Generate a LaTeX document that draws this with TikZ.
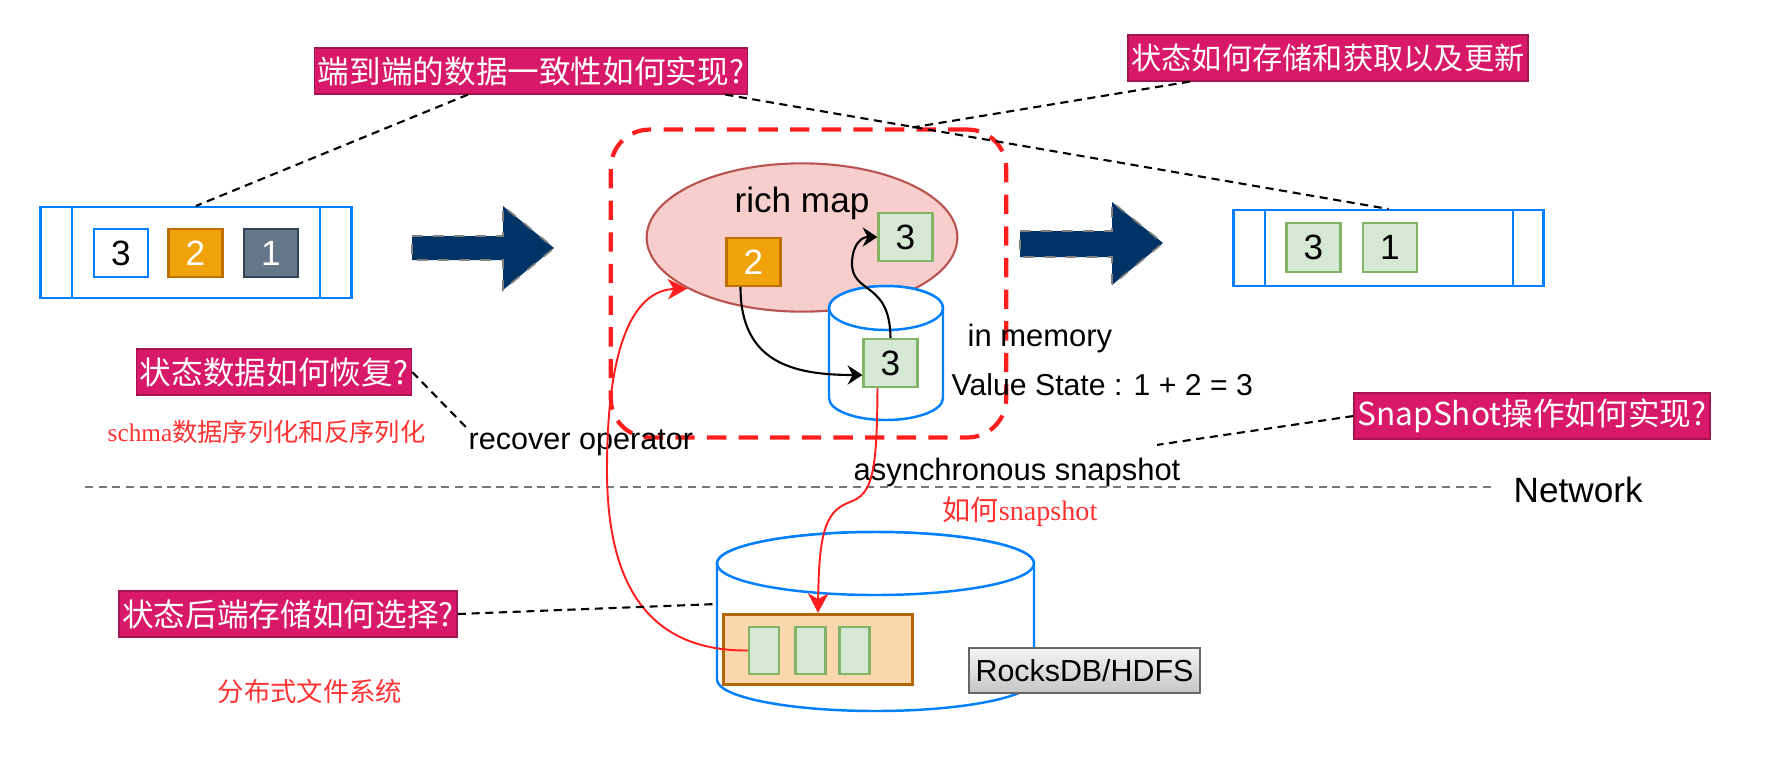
\documentclass[tikz,border=0pt]{standalone}
\usepackage{fontspec}
\setmainfont{Liberation Sans}
\newfontfamily\cjk{Noto Sans CJK SC}
\newfontfamily\serifen{Liberation Serif}
\usetikzlibrary{arrows.meta,shapes.geometric}

\begin{document}
\begin{tikzpicture}[x=0.1mm,y=-0.1mm,
    queue/.style={draw=qblue, line width=0.7pt, inner sep=0},
    item/.style={minimum width=15.3pt, minimum height=13.6pt, inner sep=0, line width=0.7pt, font=\fontsize{10}{12}\selectfont},
    greenbox/.style={item, fill=gfill, draw=gline},
    orangebox/.style={item, fill=ofill, draw=oline, text=white},
    slatebox/.style={item, fill=sfill, draw=sline, text=white},
    question/.style={fill=qmag, draw=qmagline, text=white, font=\cjk\fontsize{9}{11}\selectfont, minimum height=13pt, inner xsep=1pt, inner ysep=0},
    lbl/.style={font=\fontsize{8.7}{10}\selectfont, inner sep=0},
    note/.style={text=redtext, inner sep=0},
    hint/.style={line width=0.6pt, dash pattern=on 2.3pt off 1.6pt},
    flow/.style={-{Stealth[length=4.2pt,width=5.5pt,inset=1.4pt]}, line width=0.6pt},
    redflow/.style={-{Stealth[length=5.5pt,width=5.8pt,inset=1.6pt]}, draw=redline, line width=0.55pt},
    bigarrow/.style={fill=navy, draw=gray, dashed, line width=0.5pt},
    cyl/.style={draw=qblue, fill=white, line width=0.7pt}]

    % Define colors
    \definecolor{qblue}{RGB}{0,127,255}
    \definecolor{ofill}{RGB}{240,163,10}
    \definecolor{oline}{RGB}{189,112,0}
    \definecolor{sfill}{RGB}{100,118,135}
    \definecolor{sline}{RGB}{49,67,84}
    \definecolor{gfill}{RGB}{213,232,212}
    \definecolor{gline}{RGB}{130,179,102}
    \definecolor{mapfill}{RGB}{248,206,204}
    \definecolor{mapline}{RGB}{184,84,80}
    \definecolor{dbfill}{RGB}{250,215,172}
    \definecolor{dbline}{RGB}{180,101,4}
    \definecolor{navy}{RGB}{0,51,102}
    \definecolor{qmag}{RGB}{216,24,104}
    \definecolor{qmagline}{RGB}{165,20,80}
    \definecolor{redline}{RGB}{255,30,30}
    \definecolor{redtext}{RGB}{255,50,50}
    \definecolor{netgray}{RGB}{120,120,120}

    \useasboundingbox (0,0) rectangle (1770,758);

    % --- INPUT QUEUE ---
    \node[queue, minimum width=88.4pt, minimum height=25.8pt] (inq) at (196,252.5) {};
    \draw[qblue, line width=0.7pt] (72,207) -- (72,298) (320,207) -- (320,298);
    \node[item, fill=white, draw=qblue] (in3) at (121,253) {3};
    \node[orangebox] (in2) at (195.5,253) {2};
    \node[slatebox] (in1) at (271,253) {1};

    \draw[bigarrow] (412,236) -- (503,236) -- (503,206) -- (554,248) -- (503,290) -- (503,260) -- (412,260) -- cycle;

    % --- OPERATOR ---
    \node[draw=redline, line width=1.2pt, dash pattern=on 5.5pt off 3.5pt, rounded corners=11pt,
          minimum width=112.5pt, minimum height=87.6pt, inner sep=0] (opframe) at (808.5,283.5) {};
    \node[ellipse, fill=mapfill, draw=mapline, line width=0.6pt, minimum width=88.4pt, minimum height=42.2pt, inner sep=0] (map) at (802,237.5) {};
    \node[font=\fontsize{10}{12}\selectfont, inner sep=0] (maptext) at (802,203) {rich map};
    \node[orangebox] (map2) at (753.5,262) {2};
    \node[greenbox] (map3) at (905.5,237) {3};

    % in memory cylinder
    \filldraw[cyl] (829,308) -- (829,398) arc[start angle=180, end angle=0, x radius=57, y radius=22]
        -- (943,308) arc[start angle=0, end angle=-180, x radius=57, y radius=22] -- cycle;
    \draw[cyl] (886,308) ellipse[x radius=57, y radius=22];
    \node[greenbox] (mem3) at (890.5,363) {3};

    \draw[flow] ([shift={(-13,0)}]map2.south) .. controls +(0,75) and +(-70,0) .. ([shift={(0,12)}]mem3.west);
    \draw[flow] (mem3.north) .. controls (890,280) and (851,295) .. (852,262) .. controls (853,243) and (862,237) .. (map3.west);

    \node[lbl, font=\fontsize{8.8}{10}\selectfont, anchor=west] (inmem) at (967,338) {in memory};
    \node[lbl, font=\fontsize{8.6}{10}\selectfont, anchor=west] (value) at (951,385) {Value State : 1 + 2 = 3};
    \node[lbl, anchor=west] (recover) at (468,443) {recover operator};
    \node[lbl, font=\fontsize{8.8}{10}\selectfont, anchor=west] (async) at (853,472) {asynchronous snapshot};

    \draw[bigarrow] (1020,231) -- (1112,231) -- (1112,202) -- (1163,243) -- (1112,285) -- (1112,257) -- (1020,257) -- cycle;

    % --- OUTPUT QUEUE ---
    \node[queue, minimum width=88.2pt, minimum height=21.5pt] (outq) at (1388.5,248) {};
    \draw[qblue, line width=0.7pt] (1265,210) -- (1265,286) (1513,210) -- (1513,286);
    \node[greenbox, minimum height=13.9pt] (out3) at (1313.5,247.5) {3};
    \node[greenbox, minimum height=13.9pt] (out1) at (1390,247.5) {1};

    % --- NETWORK ---
    \node[font=\fontsize{10}{12}\selectfont, anchor=west, inner sep=0] (network) at (1513,490) {Network};
    \coordinate (netstart) at (85,487);
    \draw[netgray, hint] (netstart) -- ([shift={(-20,-3)}]network.west);

    % --- STATE BACKEND ---
    \filldraw[cyl] (717,563.5) -- (717,679.5) arc[start angle=180, end angle=0, x radius=158.5, y radius=31.5]
        -- (1034,563.5) arc[start angle=0, end angle=-180, x radius=158.5, y radius=31.5] -- cycle;
    \draw[cyl] (875.5,563.5) ellipse[x radius=158.5, y radius=31.5];
    \coordinate (dbside) at (717,604);
    \node[fill=dbfill, draw=dbline, line width=0.8pt, minimum width=53.9pt, minimum height=20.1pt, inner sep=0] (dbbox) at (818,649.5) {};
    \foreach \x/\n in {764/g1, 810.5/g2, 854.5/g3}
        \node[fill=gfill, draw=gline, line width=0.7pt, minimum width=8.5pt, minimum height=13.3pt, inner sep=0] (\n) at (\x,650.5) {};
    \node[top color=gray!8, bottom color=gray!45, draw=black!60, line width=0.6pt, font=\fontsize{8.65}{10}\selectfont,
          minimum width=65.5pt, minimum height=12.8pt, inner sep=0] (rocks) at (1084.5,670.5) {RocksDB/HDFS};

    % red flows
    \draw[redflow] ([shift={(-13,0)}]mem3.south) .. controls (877,475) and (872,494) .. (850,502)
        .. controls (826,511) and (819,530) .. (dbbox.north);
    \draw[redflow] (g1.west) .. controls (660,651) and (607,600) .. (607,470)
        .. controls (607,330) and (640,290) .. (map.204);

    % --- QUESTIONS ---
    \node[question] (qe2e) at (531,71) {端到端的数据一致性如何实现?};
    \node[question, font=\cjk\fontsize{8.6}{10}\selectfont] (qstore) at (1328,58) {状态如何存储和获取以及更新};
    \node[question] (qrecover) at (274,372) {状态数据如何恢复?};
    \node[question] (qbackend) at (288,614) {状态后端存储如何选择?};
    \node[question] (qsnap) at (1532,416) {SnapShot操作如何实现?};

    \draw[hint] ([shift={(-63,0)}]qe2e.south) -- (inq.north);
    \draw[hint] ([shift={(-23,0)}]qe2e.south east) -- (outq.north);
    \draw[hint] ([shift={(-138,0)}]qstore.south) -- ([shift={(-96,0)}]opframe.north east);
    \draw[hint] (qrecover.east) -- (recover.north west);
    \draw[hint] (qsnap.west) -- ([shift={(-24,-12)}]async.north east);
    \draw[hint] (qbackend.east) -- (dbside);

    % red notes
    \node[note, anchor=west, font=\fontsize{7.2}{9}\selectfont] (serial) at (107,432) {{\serifen schma}{\cjk 数据序列化和反序列化}};
    \node[note, anchor=west, font=\fontsize{8}{10}\selectfont] (howsnap) at (942,512) {{\cjk 如何}{\serifen snapshot}};
    \node[note, anchor=west, font=\cjk\fontsize{7.5}{9}\selectfont] (dfs) at (217,691) {分布式文件系统};

\end{tikzpicture}
\end{document}
